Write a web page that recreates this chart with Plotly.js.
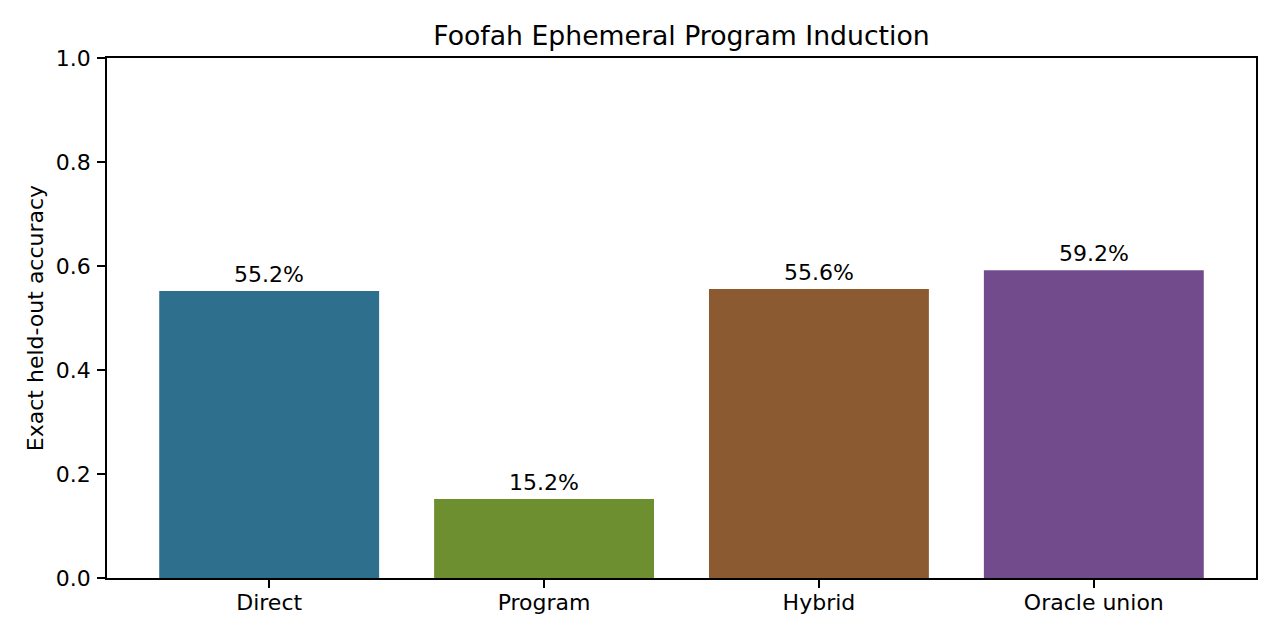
<!DOCTYPE html>
<html>
<head>
<meta charset="utf-8">
<script src="https://cdn.plot.ly/plotly-3.0.1.min.js"></script>
<style>
  html, body { margin: 0; padding: 0; background: #ffffff; }
  #chart { width: 1280px; height: 640px; }
</style>
</head>
<body>
<div id="chart"></div>
<script>
var methods = ["Direct", "Program", "Hybrid", "Oracle union"];
var accuracy = [0.552, 0.152, 0.556, 0.592];
var barColors = ["#2e6f8e", "#6e8f2f", "#8c5a30", "#724b8c"];
var yTicks = [0.0, 0.2, 0.4, 0.6, 0.8, 1.0];

var font = "DejaVu Sans, sans-serif";

var labels = []
for (var i = 0; i < methods.length; i++) {
    labels.push({
        x: methods[i],
        y: accuracy[i],
        xref: 'x',
        yref: 'y',
        text: (accuracy[i] * 100).toFixed(1) + '%',
        showarrow: false,
        yanchor: 'bottom',
        yshift: 2,
        font: {family: font, size: 22, color: '#000000'}
    })
}

var trace = {
    x: methods,
    y: accuracy,
    type: 'bar',
    width: 0.8,
    marker: {color: barColors, line: {width: 0}},
    hoverinfo: 'x+y'
};

var layout = {
    width: 1280,
    height: 640,
    margin: {l: 107, r: 24, t: 58, b: 62, pad: 0},
    paper_bgcolor: '#ffffff',
    plot_bgcolor: '#ffffff',
    showlegend: false,
    font: {family: font, size: 22, color: '#000000'},
    title: {
        text: 'Foofah Ephemeral Program Induction',
        font: {family: font, size: 26.7, color: '#000000'},
        x: 0.5, xref: 'paper', xanchor: 'center',
        y: 1, yref: 'paper', yanchor: 'bottom', pad: {b: 13}
    },
    xaxis: {
        range: [-0.59, 3.59],
        showline: true, linecolor: '#000000', linewidth: 1.8, mirror: true,
        ticks: 'outside', ticklen: 8, tickwidth: 1.8, tickcolor: '#000000',
        ticklabelstandoff: -4,
        showgrid: false, zeroline: false,
        tickfont: {family: font, size: 22, color: '#000000'}
    },
    yaxis: {
        range: [0, 1],
        tickvals: yTicks,
        ticktext: yTicks.map(function(v){ return v.toFixed(1) }),
        showline: true, linecolor: '#000000', linewidth: 1.8, mirror: true,
        ticks: 'outside', ticklen: 8, tickwidth: 1.8, tickcolor: '#000000',
        ticklabelstandoff: 2,
        showgrid: false, zeroline: false,
        tickfont: {family: font, size: 22, color: '#000000'},
        title: {text: 'Exact held-out accuracy', standoff: 6,
            font: {family: font, size: 22, color: '#000000'}}
    },
    annotations: labels,
    bargap: 0.2
};

Plotly.newPlot('chart', [trace], layout, {staticPlot: true, displayModeBar: false});
</script>
</body>
</html>
